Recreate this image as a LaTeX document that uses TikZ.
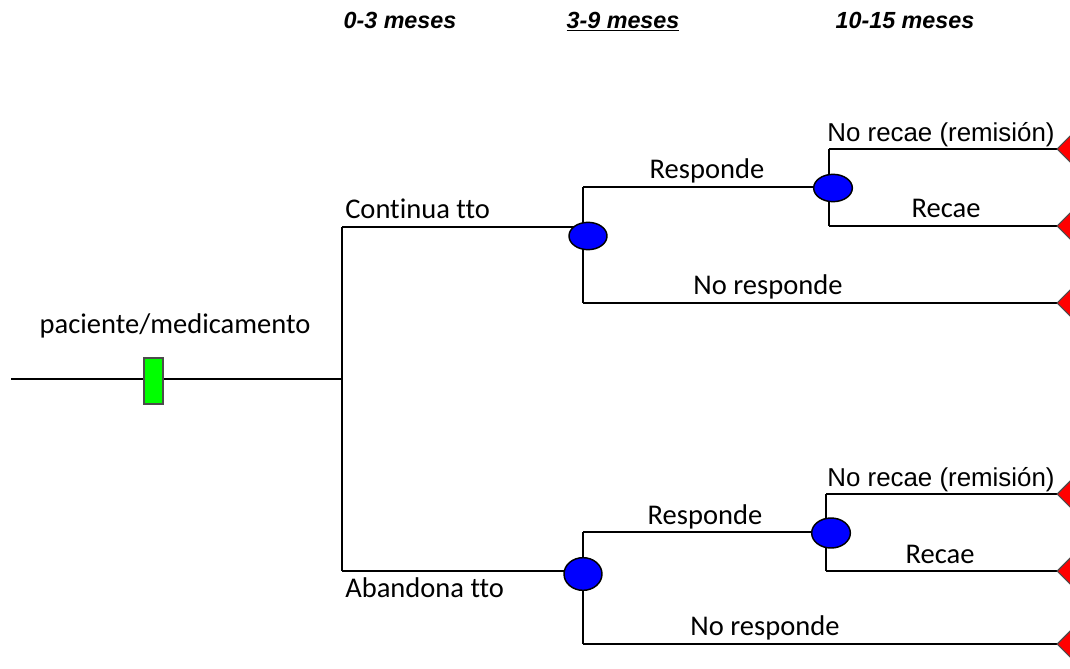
\documentclass[tikz,border=0pt]{standalone}
\usepackage{fontspec}
\setmainfont{Carlito}[Ligatures=NoCommon]
\newfontfamily\arialf{Liberation Sans}
\usetikzlibrary{shapes.geometric,backgrounds}
\tikzset{
  branch/.style={line width=1.9pt, black},
  decision/.style={draw=black!70, line width=0.9pt, fill=green, minimum width=14.25pt, minimum height=34.5pt, inner sep=0pt},
  chance/.style={ellipse, draw=black, line width=1.1pt, fill=blue, inner sep=0pt},
  terminal/.style={diamond, aspect=1, draw=black!70, line width=0.8pt, fill=red, minimum size=30pt, inner sep=0pt},
  lbl/.style={anchor=base, inner sep=0pt, font=\fontsize{21.4pt}{25pt}\selectfont},
  albl/.style={anchor=base, inner sep=0pt, font=\arialf\fontsize{19.4pt}{22pt}\selectfont},
  period/.style={anchor=base, inner sep=0pt, font=\arialf\bfseries\itshape\fontsize{17.5pt}{20pt}\selectfont}
}
\begin{document}
\begin{tikzpicture}[x=0.75pt, y=-0.75pt]
\useasboundingbox (0,0) rectangle (1070,668);

% time periods
\node[period] (p1) at (400,28) {0-3 meses};
\node[period] (p2) at (623,28) {\underline{3-9 meses}};
\node[period] (p3) at (905,28) {10-15 meses};

% root
\coordinate (start) at (11,379);
\node[decision] (dec) at (153.5,381) {};
\coordinate (split) at (342,379);
\coordinate (upA) at (342,227);
\coordinate (dnA) at (342,571);
\node[lbl] (root) at (175,333) {paciente/medicamento};

% upper subtree: continues treatment
\node[chance, minimum width=28.5pt, minimum height=20.5pt] (c1) at (588,236) {};
\coordinate (r1) at (583,187);
\coordinate (n1) at (583,303);
\node[chance, minimum width=29pt, minimum height=20.5pt] (c2) at (833,188) {};
\coordinate (s1) at (829,149);
\coordinate (f1) at (829,226);
\node[terminal] (e1) at (1077,149) {};
\node[terminal] (e2) at (1077,226) {};
\node[terminal] (e3) at (1077,303) {};

\node[lbl, anchor=base west] (cont) at (345,218) {Continua tto};
\node[lbl] (resp1) at (707,178) {Responde};
\node[albl] (rem1) at (941,141) {No recae (remisión)};
\node[lbl] (rec1) at (946,217) {Recae};
\node[lbl] (nr1) at (768,294) {No responde};

% lower subtree: abandons treatment
\node[chance, minimum width=28.5pt, minimum height=24.5pt] (c3) at (583,574) {};
\coordinate (r2) at (583,532);
\coordinate (n2) at (583,644);
\node[chance, minimum width=29pt, minimum height=22.5pt] (c4) at (831,533) {};
\coordinate (s2) at (826,494);
\coordinate (f2) at (826,571);
\node[terminal] (e4) at (1077,494) {};
\node[terminal] (e5) at (1077,571) {};
\node[terminal] (e6) at (1077,644) {};

\node[lbl, anchor=base west] (aban) at (345,597) {Abandona tto};
\node[lbl] (resp2) at (705,524) {Responde};
\node[albl] (rem2) at (941,486) {No recae (remisión)};
\node[lbl] (rec2) at (940,563) {Recae};
\node[lbl] (nr2) at (765,635) {No responde};

\begin{scope}[on background layer]
  \draw[branch] (start) -- (split);
  \draw[branch] (upA) -- (dnA);
  \draw[branch] (upA) -- (upA -| c1);
  \draw[branch] (dnA) -- (dnA -| c3);
  % upper chance branches
  \draw[branch] (r1) -- (n1);
  \draw[branch] (r1) -- (r1 -| c2);
  \draw[branch] (n1) -- (n1 -| e3);
  \draw[branch] (s1) -- (f1);
  \draw[branch] (s1) -- (s1 -| e1);
  \draw[branch] (f1) -- (f1 -| e2);
  % lower chance branches
  \draw[branch] (r2) -- (n2);
  \draw[branch] (r2) -- (r2 -| c4);
  \draw[branch] (n2) -- (n2 -| e6);
  \draw[branch] (s2) -- (f2);
  \draw[branch] (s2) -- (s2 -| e4);
  \draw[branch] (f2) -- (f2 -| e5);
\end{scope}
\end{tikzpicture}
\end{document}
